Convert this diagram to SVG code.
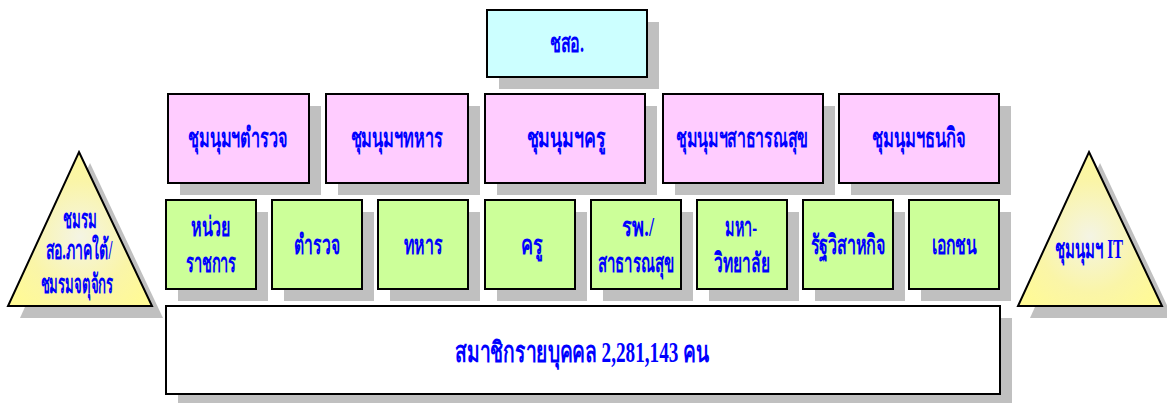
<svg xmlns="http://www.w3.org/2000/svg" width="1167" height="403" viewBox="0 0 1167 403">
<defs>
<style>
.sh{fill:#C0C0C0}
.box{stroke:#000;stroke-width:2}
.top{fill:#CCFFFF}
.pink{fill:#FFCCFF}
.green{fill:#CCFF99}
.white{fill:#FFFFFF}
.tri{fill:url(#tg);stroke:#000;stroke-width:2}
.t{font-family:"Liberation Serif","DejaVu Serif",serif;font-weight:bold;fill:#0000FF;text-anchor:middle;font-size:27px}
.big{font-size:29px}
</style>
<radialGradient id="tg" cx="0.5" cy="0.55" r="0.6">
<stop offset="0" stop-color="#F4F4E4"/>
<stop offset="0.6" stop-color="#FAF5A8"/>
<stop offset="1" stop-color="#FFFA96"/>
</radialGradient>
</defs>
<g id="connectors"></g>
<g id="n-top">
<rect class="sh" x="499" y="22" width="160" height="67"/>
<rect class="box top" x="487" y="10" width="160" height="67"/>
<text class="t" x="567" y="52" textLength="34" lengthAdjust="spacingAndGlyphs">ชสอ.</text>
</g>
<g id="n-p1"><rect class="sh" x="180" y="106" width="141" height="89"/><rect class="box pink" x="168" y="94" width="141" height="89"/><text class="t" x="238" y="147" textLength="100" lengthAdjust="spacingAndGlyphs">ชุมนุมฯตำรวจ</text></g>
<g id="n-p2"><rect class="sh" x="338" y="106" width="142" height="89"/><rect class="box pink" x="326" y="94" width="142" height="89"/><text class="t" x="397" y="147" textLength="93" lengthAdjust="spacingAndGlyphs">ชุมนุมฯทหาร</text></g>
<g id="n-p3"><rect class="sh" x="497" y="106" width="160" height="89"/><rect class="box pink" x="485" y="94" width="160" height="89"/><text class="t" x="566" y="147" textLength="79" lengthAdjust="spacingAndGlyphs">ชุมนุมฯครู</text></g>
<g id="n-p4"><rect class="sh" x="675" y="106" width="160" height="89"/><rect class="box pink" x="663" y="94" width="160" height="89"/><text class="t" x="742" y="147" textLength="132" lengthAdjust="spacingAndGlyphs">ชุมนุมฯสาธารณสุข</text></g>
<g id="n-p5"><rect class="sh" x="851" y="106" width="160" height="89"/><rect class="box pink" x="839" y="94" width="160" height="89"/><text class="t" x="919" y="147" textLength="94" lengthAdjust="spacingAndGlyphs">ชุมนุมฯธนกิจ</text></g>
<g id="n-g1"><rect class="sh" x="178" y="212" width="90" height="89"/><rect class="box green" x="166" y="200" width="90" height="89"/><text class="t" x="211" y="236" textLength="40" lengthAdjust="spacingAndGlyphs">หน่วย</text><text class="t" x="211" y="272" textLength="51" lengthAdjust="spacingAndGlyphs">ราชการ</text></g>
<g id="n-g2"><rect class="sh" x="284" y="212" width="90" height="89"/><rect class="box green" x="272" y="200" width="90" height="89"/><text class="t" x="317" y="254" textLength="46" lengthAdjust="spacingAndGlyphs">ตำรวจ</text></g>
<g id="n-g3"><rect class="sh" x="390" y="212" width="90" height="89"/><rect class="box green" x="378" y="200" width="90" height="89"/><text class="t" x="423" y="254" textLength="39" lengthAdjust="spacingAndGlyphs">ทหาร</text></g>
<g id="n-g4"><rect class="sh" x="497" y="212" width="90" height="89"/><rect class="box green" x="485" y="200" width="90" height="89"/><text class="t" x="532" y="254" textLength="22" lengthAdjust="spacingAndGlyphs">ครู</text></g>
<g id="n-g5"><rect class="sh" x="603" y="212" width="90" height="89"/><rect class="box green" x="591" y="200" width="90" height="89"/><text class="t" x="638" y="236" textLength="32" lengthAdjust="spacingAndGlyphs">รพ./</text><text class="t" x="636" y="272" textLength="76" lengthAdjust="spacingAndGlyphs">สาธารณสุข</text></g>
<g id="n-g6"><rect class="sh" x="709" y="212" width="90" height="89"/><rect class="box green" x="697" y="200" width="90" height="89"/><text class="t" x="741" y="236" textLength="32" lengthAdjust="spacingAndGlyphs">มหา-</text><text class="t" x="742" y="272" textLength="56" lengthAdjust="spacingAndGlyphs">วิทยาลัย</text></g>
<g id="n-g7"><rect class="sh" x="815" y="212" width="90" height="89"/><rect class="box green" x="803" y="200" width="90" height="89"/><text class="t" x="848" y="254" textLength="75" lengthAdjust="spacingAndGlyphs">รัฐวิสาหกิจ</text></g>
<g id="n-g8"><rect class="sh" x="921" y="212" width="90" height="89"/><rect class="box green" x="909" y="200" width="90" height="89"/><text class="t" x="954" y="254" textLength="45" lengthAdjust="spacingAndGlyphs">เอกชน</text></g>
<g id="n-bottom"><rect class="sh" x="178" y="318" width="834" height="88"/><rect class="box white" x="166" y="306" width="834" height="88"/><text class="t big" x="582" y="362" textLength="254" lengthAdjust="spacingAndGlyphs">สมาชิกรายบุคคล 2,281,143 คน</text></g>
<g id="n-left">
<polygon class="sh" points="90,163 163,318 20,318"/>
<polygon class="tri" points="79,152 152,306 8,306"/>
<text class="t" x="80" y="228" textLength="34" lengthAdjust="spacingAndGlyphs">ชมรม</text>
<text class="t" x="79" y="259" textLength="67" lengthAdjust="spacingAndGlyphs">สอ.ภาคใต้/</text>
<text class="t" x="77" y="293" textLength="73" lengthAdjust="spacingAndGlyphs">ชมรมจตุจักร</text>
</g>
<g id="n-right">
<polygon class="sh" points="1100,163 1173,318 1030,318"/>
<polygon class="tri" points="1089,152 1162,306 1018,306"/>
<text class="t" x="1089" y="258" textLength="68" lengthAdjust="spacingAndGlyphs">ชุมนุมฯ IT</text>
</g>
</svg>
